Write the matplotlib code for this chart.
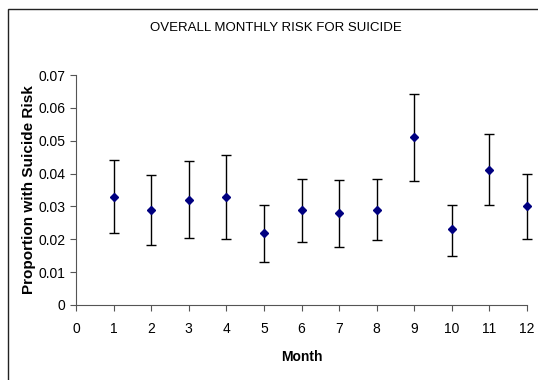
import numpy as np
import matplotlib.pyplot as plt
from matplotlib.patches import Rectangle

# Monatswerte und Konfidenzgrenzen
monate = np.arange(1, 13)
risiko = [0.033, 0.029, 0.032, 0.033, 0.022, 0.029, 0.028, 0.029, 0.051, 0.023, 0.041, 0.030]
untere = [0.022, 0.0183, 0.0205, 0.0201, 0.0132, 0.0193, 0.0177, 0.0197, 0.0376, 0.015, 0.0303, 0.0202]
obere = [0.044, 0.0395, 0.0437, 0.0457, 0.0305, 0.0384, 0.0381, 0.0384, 0.0642, 0.0305, 0.052, 0.040]

risiko = np.array(risiko)
fehler = np.vstack([risiko - np.array(untere), np.array(obere) - risiko])

plt.rcParams['font.family'] = ['Liberation Sans', 'DejaVu Sans']

fig = plt.figure(figsize=(5.38, 3.80), dpi=100)
achsen = fig.add_axes([0.1413, 0.1974, 0.8383, 0.6052])

# Rahmen um die Grafik
fig.patches.append(Rectangle((8 / 538, -0.1), 1.2, 1.1 - 9 / 380, transform=fig.transFigure,
                             fill=False, edgecolor='#222222', linewidth=1.0))

linien = achsen.errorbar(monate, risiko, yerr=fehler, fmt='D', color='#000080', markersize=4.2,
                         ecolor='black', elinewidth=1.0, capsize=3.5, capthick=1.0)
for teil in linien.get_children():
    teil.set_clip_on(False)

achsen.set_xlim(0, 12)
achsen.set_ylim(0, 0.07)
achsen.set_xticks(np.arange(0, 13))
achsen.set_yticks(np.arange(0, 0.071, 0.01))
achsen.set_yticklabels(['0', '0.01', '0.02', '0.03', '0.04', '0.05', '0.06', '0.07'])

for seite in ['top', 'right']:
    achsen.spines[seite].set_visible(False)
for seite in ['left', 'bottom']:
    achsen.spines[seite].set_color('#555555')
achsen.tick_params(direction='out', length=4, color='#555555', labelsize=10)
achsen.tick_params(axis='x', pad=8)

achsen.set_xlabel('Month', fontsize=10, fontweight='bold', labelpad=10)
achsen.set_ylabel('Proportion with Suicide Risk', fontsize=11, fontweight='bold')
achsen.yaxis.set_label_coords(-0.089, 0.5)
fig.text(0.513, 1 - 28 / 380, 'OVERALL MONTHLY RISK FOR SUICIDE', ha='center', va='center', fontsize=9.5)

fig.savefig('out.png', dpi=100)
